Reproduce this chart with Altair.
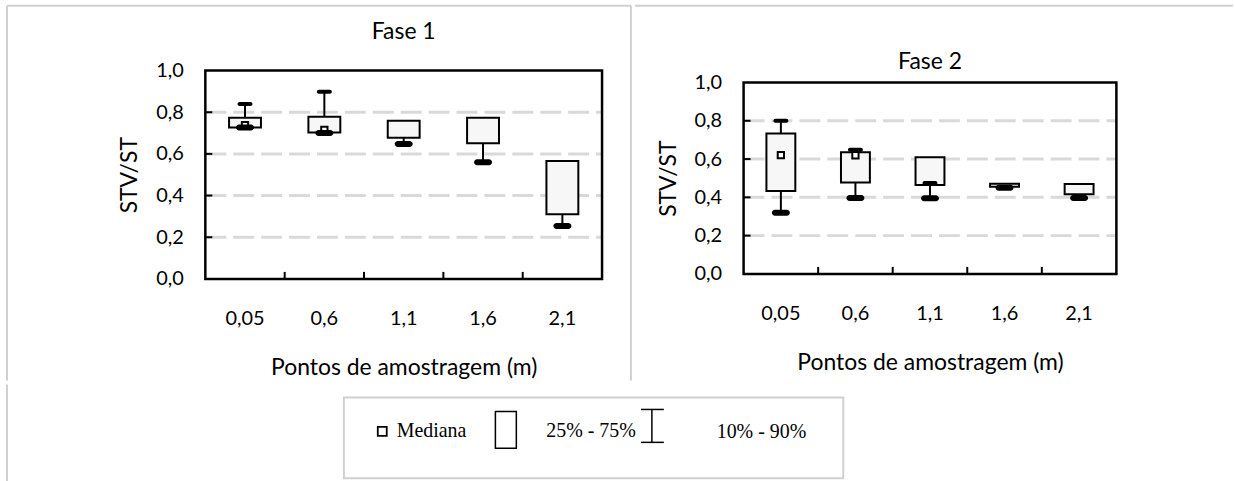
import altair as alt
import pandas as pd

# ---------------- data ----------------
categories = ["0,05", "0,6", "1,1", "1,6", "2,1"]

f1_q1 = [0.727, 0.703, 0.678, 0.651, 0.310]
f1_q3 = [0.774, 0.778, 0.759, 0.774, 0.566]
f1_p10 = [0.727, 0.700, 0.647, 0.560, 0.254]
f1_p90 = [0.839, 0.898, None, None, None]
f1_med = [0.738, 0.715, None, None, None]

f2_q1 = [0.433, 0.478, 0.464, 0.455, 0.416]
f2_q3 = [0.733, 0.636, 0.609, 0.471, 0.470]
f2_p10 = [0.320, 0.396, 0.395, 0.450, 0.396]
f2_p90 = [0.800, 0.649, 0.475, None, None]
f2_med = [0.621, 0.620, None, None, None]

y_ticks = [0.0, 0.2, 0.4, 0.6, 0.8, 1.0]
grid_vals = [0.2, 0.4, 0.6, 0.8]

panel_titles = ["Fase 1", "Fase 2"]
x_title = "Pontos de amostragem (m)"
y_title = "STV/ST"
legend_labels = ["Mediana", "25% - 75%", "10% - 90%"]

# ---------------- style ----------------
FONT = "Lato"
SERIF = "Liberation Serif"
GRAY = "#d0d0d0"
GRID = "#d9d9d9"


def one(text):
    return pd.DataFrame({"t": [text]})


def deco_rule(x, y, x2=None, y2=None, color=GRAY, width=2):
    enc = dict(x=alt.value(x), y=alt.value(y))
    if x2 is not None:
        enc["x2"] = alt.value(x2)
    if y2 is not None:
        enc["y2"] = alt.value(y2)
    return alt.Chart(one("")).mark_rule(color=color, strokeWidth=width).encode(**enc)


def panel(title, q1, q3, p10, p90, med, W, H, top, box_w, title_y, decos):
    """W, H: plot box size; top: offset of the plot box inside the chart."""
    HT = H + top
    df = pd.DataFrame({"pos": categories, "q1": q1, "q3": q3, "p10": p10,
                       "p90": p90, "med": med})
    df["hi"] = [b if (b is not None and not pd.isna(b) and b > a) else a
                for a, b in zip(q3, p90)]

    xscale = alt.Scale(domain=categories, paddingInner=0, paddingOuter=0)
    xaxis = alt.Axis(title=x_title, labelAngle=0, ticks=False, tickSize=0,
                     domain=False, grid=False, labelFont=FONT, labelFontSize=20,
                     labelColor="black", labelPadding=30, titleFont=FONT,
                     titleFontSize=23, titleFontWeight="normal",
                     titleColor="black", titlePadding=28)
    yscale = alt.Scale(domain=[0, 1], nice=False, zero=True, range=[HT, top])
    yaxis = alt.Axis(title=y_title, values=y_ticks,
                     labelExpr="replace(format(datum.value, '.1f'), '.', ',')",
                     ticks=False, tickSize=0, domain=False, grid=False,
                     labelFont=FONT, labelFontSize=20, labelColor="black",
                     labelPadding=22, titleFont=FONT, titleFontSize=23,
                     titleFontWeight="normal", titleColor="black",
                     titlePadding=14)

    def X(**kw):
        return alt.X("pos:N", scale=xscale, axis=xaxis, **kw)

    def Y(f):
        return alt.Y(f"{f}:Q", scale=yscale, axis=yaxis)

    grid = alt.Chart(pd.DataFrame({"v": grid_vals})).mark_rule(
        color=GRID, strokeWidth=3, strokeDash=[21, 7]
    ).encode(y=Y("v"), x=alt.value(0), x2=alt.value(W))

    whisk = alt.Chart(df).mark_rule(color="black", strokeWidth=2).encode(
        x=X(), y=Y("p10"), y2="hi:Q")

    box = alt.Chart(df).mark_bar(size=box_w, fill="#f7f7f7", stroke="black",
                                 strokeWidth=2).encode(
        x=X(), y=Y("q1"), y2="q3:Q")

    upcap = alt.Chart(df).transform_filter("isValid(datum.p90)").mark_tick(
        size=15, thickness=4, color="black", cornerRadius=2, opacity=1
    ).encode(x=X(), y=Y("p90"))

    locap = alt.Chart(df).mark_tick(
        size=18, thickness=6, color="black", cornerRadius=3, opacity=1
    ).encode(x=X(), y=Y("p10"))

    medm = alt.Chart(df).transform_filter("isValid(datum.med)").mark_square(
        size=40, fill="white", stroke="black", strokeWidth=2, opacity=1
    ).encode(x=X(), y=Y("med"))

    yt = alt.Chart(pd.DataFrame({"v": grid_vals})).mark_rule(
        color="black", strokeWidth=2).encode(
        y=Y("v"), x=alt.value(0), x2=alt.value(7))

    xt = alt.Chart(pd.DataFrame({"pos": categories[:-1]})).mark_rule(
        color="black", strokeWidth=2).encode(
        x=X(bandPosition=1), y=alt.value(HT), y2=alt.value(HT - 7))

    frame = alt.Chart(one("")).mark_rect(
        filled=False, stroke="black", strokeWidth=2.5).encode(
        x=alt.value(0), x2=alt.value(W), y=alt.value(top), y2=alt.value(HT))

    ttl = alt.Chart(one(title)).mark_text(
        font=FONT, fontSize=23, color="black", align="center",
        baseline="middle").encode(text="t:N", x=alt.value(W / 2),
                                  y=alt.value(title_y))

    layers = [grid, whisk, box, medm, locap, upcap, yt, xt, frame, ttl]
    layers += [deco_rule(**d) for d in decos]
    return alt.layer(*layers).properties(width=W, height=HT)


# Fase 1 plot box: x 205-603, y 69-278 ; Fase 2 plot box: x 743-1117, y 81-273
f1 = panel(panel_titles[0], f1_q1, f1_q3, f1_p10, f1_p90, f1_med,
           W=398, H=209, top=0, box_w=32, title_y=-39,
           decos=[dict(x=-199, x2=427, y=-65),
                  dict(x=-199, y=-65, y2=311),
                  dict(x=427, y=-65, y2=311)])

f2 = panel(panel_titles[1], f2_q1, f2_q3, f2_p10, f2_p90, f2_med,
           W=374, H=192, top=12, box_w=29, title_y=-9,
           decos=[dict(x=-109, x2=491, y=-65)])

# ---------------- legend ----------------
LW, LH = 640, 81
BX = 139  # legend box left edge inside the legend view
leg_box = alt.Chart(one("")).mark_rect(
    filled=False, stroke=GRAY, strokeWidth=2).encode(
    x=alt.value(BX), x2=alt.value(LW), y=alt.value(0), y2=alt.value(LH))
leg_line = deco_rule(x=-199, y=-13, y2=85)
leg_sq = alt.Chart(one("")).mark_square(
    size=81, fill="white", stroke="black", strokeWidth=1.8, opacity=1).encode(
    x=alt.value(BX + 38.5), y=alt.value(34))
leg_rect = alt.Chart(one("")).mark_rect(
    filled=False, stroke="black", strokeWidth=1.5).encode(
    x=alt.value(BX + 152), x2=alt.value(BX + 173), y=alt.value(14),
    y2=alt.value(51))
ib_v = deco_rule(x=BX + 309, y=12, y2=45, color="black", width=1.5)
ib_t = deco_rule(x=BX + 298, x2=BX + 321, y=12, color="black", width=1.5)
ib_b = deco_rule(x=BX + 298, x2=BX + 321, y=45, color="black", width=1.5)


def leg_text(label, x, y):
    return alt.Chart(one(label)).mark_text(
        font=SERIF, fontSize=20, color="black", align="left",
        baseline="middle").encode(text="t:N", x=alt.value(x), y=alt.value(y))


legend = alt.layer(
    leg_box, leg_line, leg_sq, leg_rect, ib_v, ib_t, ib_b,
    leg_text(legend_labels[0], BX + 53, 34),
    leg_text(legend_labels[1], BX + 203, 34),
    leg_text(legend_labels[2], BX + 374, 35),
).properties(width=LW, height=LH)

top = alt.hconcat(f1, f2, spacing=0)
chart = alt.vconcat(top, legend, spacing=0).properties(
    padding={"left": 5, "top": 3, "right": 0, "bottom": 0},
    background="white",
).configure_view(stroke="transparent")

chart.save("out.html", embed_options={"renderer": "svg", "actions": False})
